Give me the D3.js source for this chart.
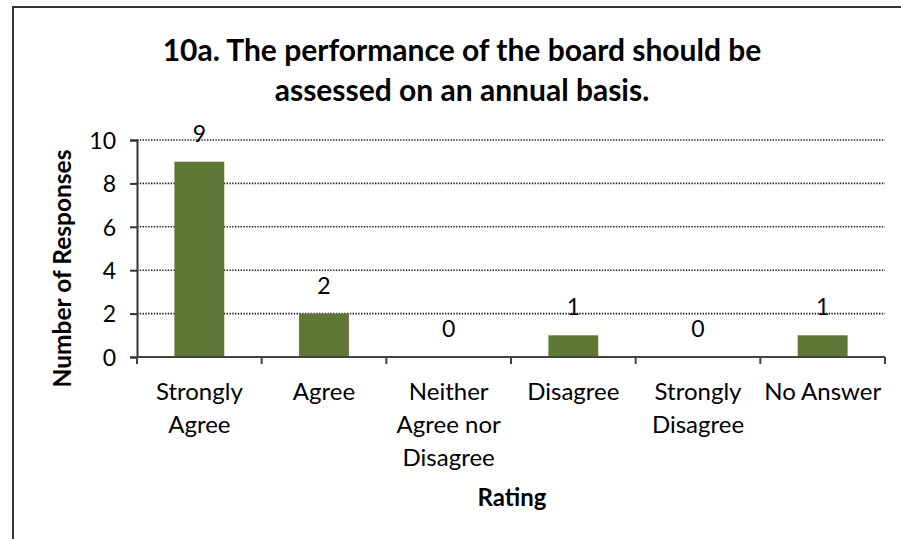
<!DOCTYPE html>
<html>
<head>
<meta charset="utf-8">
<script src="https://cdn.jsdelivr.net/npm/d3@7"></script>
<style>
  body { margin: 0; background: #fff; }
  text { font-family: Lato, "Open Sans", sans-serif; fill: #000; }
</style>
</head>
<body>
<div class="chart"></div>
<script>
var categories = [["Strongly", "Agree"], ["Agree"], ["Neither", "Agree nor", "Disagree"], ["Disagree"], ["Strongly", "Disagree"], ["No Answer"]];
var values = [9, 2, 0, 1, 0, 1];
var yTicks = [0, 2, 4, 6, 8, 10];
var titleLines = ["10a. The performance of the board should be", "assessed on an annual basis."];

var width = 901,
    height = 539;

var margin = { left: 137, right: 16, top: 140, bottom: 182 };

var svg = d3.select(".chart")
    .append("svg")
    .attr("width", width)
    .attr("height", height);

// frame
svg.append("path")
    .attr("d", "M13," + height + "V7H" + width)
    .attr("fill", "none")
    .attr("stroke", "#333")
    .attr("stroke-width", 2);

var x = d3.scaleBand()
    .domain(d3.range(values.length))
    .range([margin.left, width - margin.right])
    .paddingInner(0.6)
    .paddingOuter(0.3);

var y = d3.scaleLinear()
    .domain([0, 10])
    .range([height - margin.bottom, margin.top]);

// gridlines
svg.append("g")
    .selectAll("line")
    .data(yTicks.filter(function (d) { return d > 0; }))
    .enter()
    .append("line")
    .attr("x1", margin.left)
    .attr("x2", width - margin.right)
    .attr("y1", function (d) { return y(d); })
    .attr("y2", function (d) { return y(d); })
    .attr("stroke", "#222")
    .attr("stroke-width", 1.6)
    .attr("stroke-dasharray", "1.4,1.4");

// bars
svg.append("g")
    .selectAll("rect")
    .data(values)
    .enter()
    .append("rect")
    .attr("x", function (d, i) { return x(i); })
    .attr("width", x.bandwidth())
    .attr("y", function (d) { return y(d); })
    .attr("height", function (d) { return y(0) - y(d); })
    .attr("fill", "#5f7836");

// data labels
svg.append("g")
    .selectAll("text")
    .data(values)
    .enter()
    .append("text")
    .attr("x", function (d, i) { return x(i) + x.bandwidth() / 2; })
    .attr("y", function (d) { return y(d) - 20; })
    .attr("text-anchor", "middle")
    .attr("font-size", 23)
    .text(function (d) { return d; });

// y axis
var yAxis = svg.append("g")
    .attr("transform", "translate(" + margin.left + ",0)")
    .call(d3.axisLeft(y).tickValues(yTicks).tickSize(7).tickPadding(14));
yAxis.selectAll("text")
    .attr("font-size", 23)
    .attr("fill", "#000")
    .attr("dy", "0.36em")
    .style("font-family", "Lato");
yAxis.selectAll("line, path").attr("stroke", "#333").attr("stroke-width", 2);

// x axis with ticks at category boundaries
var step = x.step();
var boundaries = d3.range(values.length + 1).map(function (i) {
    return x(0) - x.paddingOuter() * step + i * step;
});
var xAxis = svg.append("g");
xAxis.append("line")
    .attr("x1", margin.left)
    .attr("x2", width - margin.right)
    .attr("y1", y(0))
    .attr("y2", y(0))
    .attr("stroke", "#444")
    .attr("stroke-width", 2);
xAxis.selectAll(".tick")
    .data(boundaries)
    .enter()
    .append("line")
    .attr("x1", function (d) { return d; })
    .attr("x2", function (d) { return d; })
    .attr("y1", y(0))
    .attr("y2", y(0) + 7)
    .attr("stroke", "#444")
    .attr("stroke-width", 2);

xAxis.selectAll(".cat")
    .data(categories)
    .enter()
    .append("text")
    .attr("text-anchor", "middle")
    .attr("font-size", 24)
    .attr("transform", function (d, i) {
        return "translate(" + (x(i) + x.bandwidth() / 2) + "," + (y(0) + 43) + ")";
    })
    .selectAll("tspan")
    .data(function (d) { return d; })
    .enter()
    .append("tspan")
    .attr("x", 0)
    .attr("dy", function (d, i) { return i ? 33 : 0; })
    .text(function (d) { return d; });

// axis titles
svg.append("text")
    .attr("x", 512)
    .attr("y", 506)
    .attr("text-anchor", "middle")
    .attr("font-size", 24)
    .attr("font-weight", "bold")
    .text("Rating");

svg.append("text")
    .attr("transform", "translate(71," + (y(5) + 20) + ") rotate(-90)")
    .attr("text-anchor", "middle")
    .attr("font-size", 24.5)
    .attr("font-weight", "bold")
    .text("Number of Responses");

// title
svg.append("g")
    .selectAll("text")
    .data(titleLines)
    .enter()
    .append("text")
    .attr("x", 462)
    .attr("y", function (d, i) { return 61 + i * 40; })
    .attr("text-anchor", "middle")
    .attr("font-size", 30)
    .attr("font-weight", "bold")
    .text(function (d) { return d; });
</script>
</body>
</html>
